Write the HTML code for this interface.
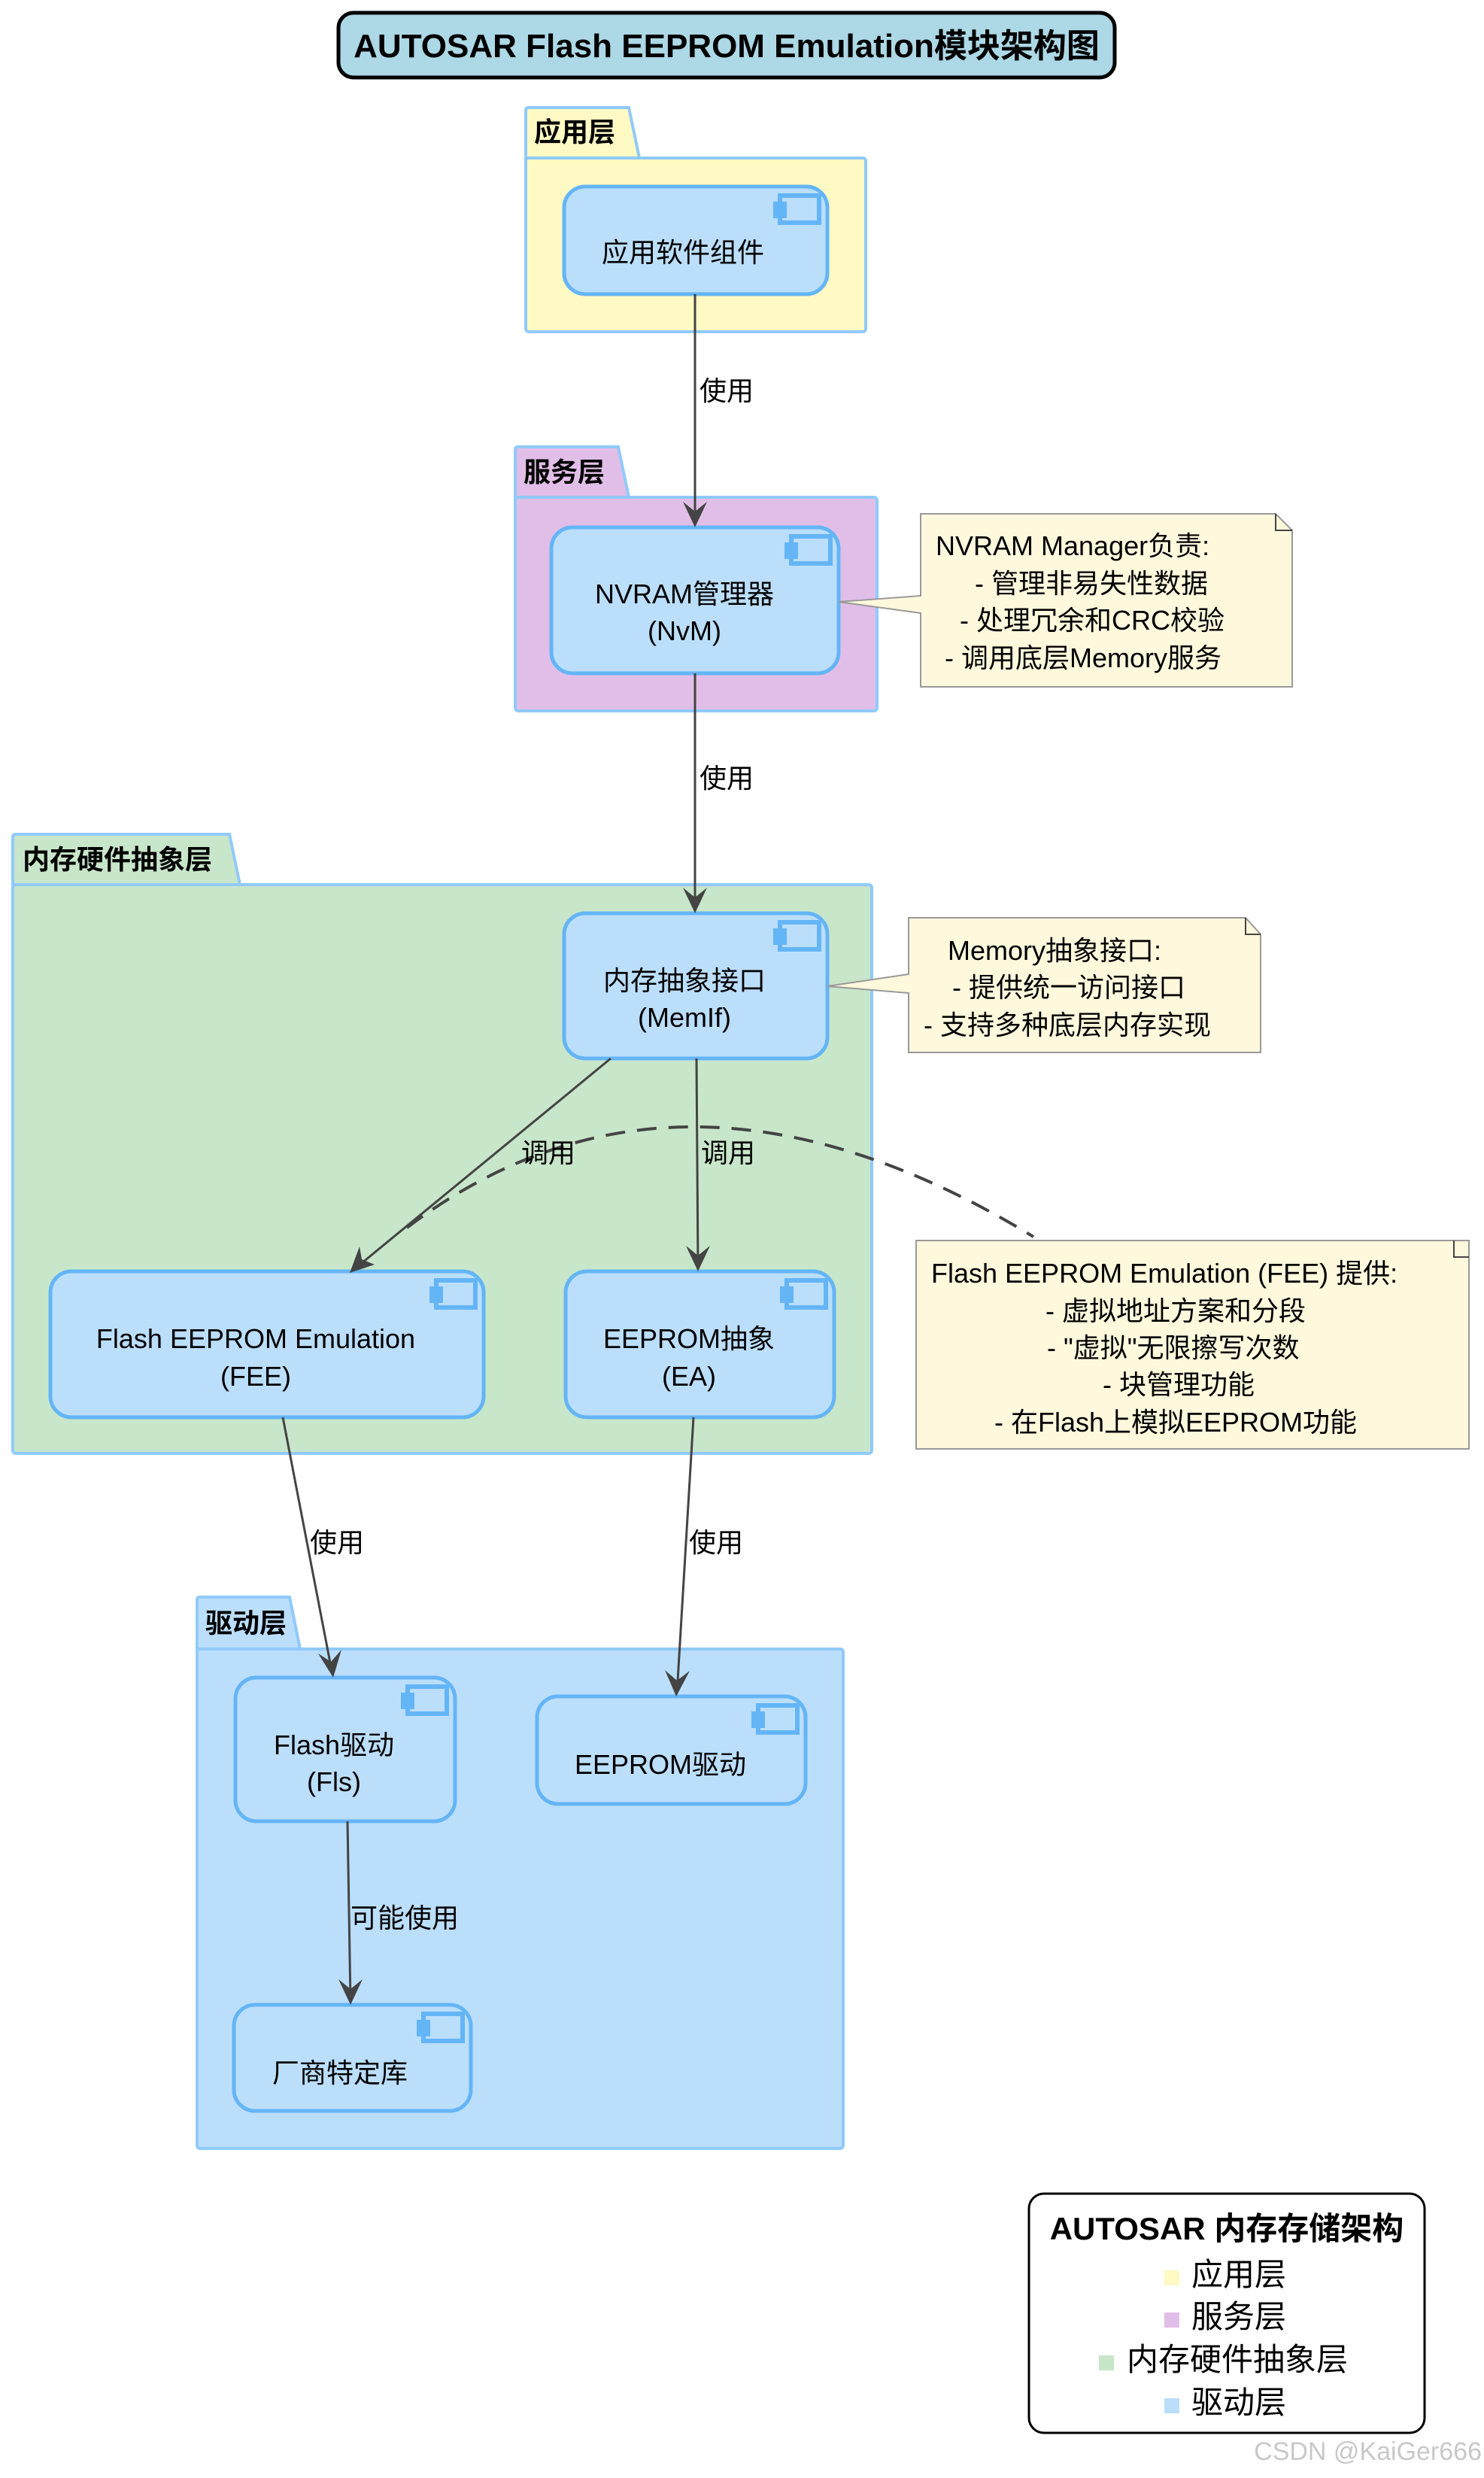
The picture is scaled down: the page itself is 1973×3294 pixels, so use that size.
<!DOCTYPE html>
<html><head><meta charset="utf-8"><style>
html,body{margin:0;padding:0;background:#fff;}
svg{display:block;}
text{font-family:"Liberation Sans","Noto Sans CJK SC",sans-serif;fill:#000;}
</style></head><body>
<svg width="1973" height="3294" viewBox="0 0 1973 3294" xmlns="http://www.w3.org/2000/svg">
<defs>
<marker id="ar" markerWidth="40" markerHeight="40" refX="20" refY="36" orient="auto-start-reverse" markerUnits="userSpaceOnUse" viewBox="0 0 40 40">
</marker>
<g id="ic">
<rect x="-63" y="14" width="52" height="36" fill="#bbdefb" stroke="#64b5f6" stroke-width="6"/>
<rect x="-72" y="22" width="18" height="22" fill="#64b5f6"/>
</g>
</defs>

<!-- title -->
<rect x="450" y="17" width="1032" height="86" rx="20" fill="#add8e6" stroke="#000" stroke-width="5"/>
<text x="966" y="76" font-size="44" font-weight="bold" text-anchor="middle">AUTOSAR Flash EEPROM Emulation模块架构图</text>

<!-- packages -->
<g stroke="#90caf9" stroke-width="4">
<path d="M699,210 L699,147 Q699,143 703,143 L836,143 L850,210 Z" fill="#fff9c4"/>
<rect x="699" y="210" width="452" height="231" rx="4" fill="#fff9c4"/>
<path d="M685,661 L685,598 Q685,594 689,594 L822,594 L836,661 Z" fill="#e1bee7"/>
<rect x="685" y="661" width="481" height="284" rx="4" fill="#e1bee7"/>
<path d="M17,1176 L17,1113 Q17,1109 21,1109 L305,1109 L319,1176 Z" fill="#c8e6c9"/>
<rect x="17" y="1176" width="1142" height="756" rx="4" fill="#c8e6c9"/>
<path d="M262,2192 L262,2127 Q262,2123 266,2123 L385,2123 L399,2192 Z" fill="#bbdefb"/>
<rect x="262" y="2192" width="859" height="664" rx="4" fill="#bbdefb"/>
</g>
<g font-size="36" font-weight="bold">
<text x="710" y="188">应用层</text>
<text x="696" y="640">服务层</text>
<text x="30" y="1155">内存硬件抽象层</text>
<text x="273" y="2170">驱动层</text>
</g>

<!-- components -->
<g fill="#bbdefb" stroke="#64b5f6" stroke-width="5">
<rect x="750" y="248" width="350" height="143" rx="28"/>
<rect x="733" y="701" width="382" height="194" rx="28"/>
<rect x="750" y="1214" width="350" height="193" rx="28"/>
<rect x="67" y="1690" width="576" height="194" rx="28"/>
<rect x="752" y="1690" width="357" height="194" rx="28"/>
<rect x="313" y="2230" width="292" height="191" rx="28"/>
<rect x="714" y="2255" width="357" height="143" rx="28"/>
<rect x="311" y="2665" width="315" height="141" rx="28"/>
</g>
<use href="#ic" x="1100" y="246"/>
<use href="#ic" x="1115" y="699"/>
<use href="#ic" x="1100" y="1212"/>
<use href="#ic" x="643" y="1688"/>
<use href="#ic" x="1109" y="1688"/>
<use href="#ic" x="605" y="2228"/>
<use href="#ic" x="1071" y="2253"/>
<use href="#ic" x="626" y="2663"/>

<g font-size="36" text-anchor="middle">
<text x="908" y="348">应用软件组件</text>
<text x="910" y="802">NVRAM管理器</text>
<text x="910" y="851">(NvM)</text>
<text x="910" y="1316">内存抽象接口</text>
<text x="910" y="1365">(MemIf)</text>
<text x="340" y="1792">Flash EEPROM Emulation</text>
<text x="340" y="1842">(FEE)</text>
<text x="916" y="1792">EEPROM抽象</text>
<text x="916" y="1842">(EA)</text>
<text x="444" y="2332">Flash驱动</text>
<text x="444" y="2381">(Fls)</text>
<text x="878" y="2358">EEPROM驱动</text>
<text x="452" y="2768">厂商特定库</text>
</g>

<!-- notes -->
<g stroke="#999" stroke-width="2" fill="#fef8dc">
<path d="M1224,683 L1696,683 L1718,705 L1718,913 L1224,913 L1224,815 L1115,800 L1224,792 Z"/>
<path d="M1208,1220 L1656,1220 L1676,1242 L1676,1399 L1208,1399 L1208,1320 L1100,1311 L1208,1295 Z"/>
<rect x="1218" y="1649" width="735" height="277"/>
</g>
<g fill="none" stroke="#444" stroke-width="2">
<path d="M1696,683 L1696,705 L1718,705"/>
<path d="M1656,1220 L1656,1242 L1676,1242"/>
<path d="M1933,1649 L1933,1671 L1953,1671"/>
</g>
<g font-size="36">
<text x="1244" y="738">NVRAM Manager负责:</text>
<text x="1296" y="788">- 管理非易失性数据</text>
<text x="1276" y="837">- 处理冗余和CRC校验</text>
<text x="1256" y="887">- 调用底层Memory服务</text>
<text x="1260" y="1276">Memory抽象接口:</text>
<text x="1266" y="1325">- 提供统一访问接口</text>
<text x="1228" y="1375">- 支持多种底层内存实现</text>
<text x="1238" y="1705">Flash EEPROM Emulation (FEE) 提供:</text>
<text x="1390" y="1755">- 虚拟地址方案和分段</text>
<text x="1392" y="1804">- "虚拟"无限擦写次数</text>
<text x="1466" y="1853">- 块管理功能</text>
<text x="1322" y="1903">- 在Flash上模拟EEPROM功能</text>
</g>

<!-- dashed curve -->
<path d="M541,1632 Q904,1358 1374,1644" fill="none" stroke="#444" stroke-width="4" stroke-dasharray="26,16"/>

<!-- arrows -->
<g stroke="#444" stroke-width="3" fill="none">
<line x1="924" y1="391" x2="924" y2="695"/>
<line x1="924" y1="895" x2="924" y2="1208"/>
<line x1="812" y1="1407" x2="470" y2="1688"/>
<line x1="926" y1="1407" x2="928" y2="1686"/>
<line x1="376" y1="1884" x2="442" y2="2226"/>
<line x1="922" y1="1884" x2="900" y2="2251"/>
<line x1="462" y1="2421" x2="466" y2="2661"/>
</g>
<g fill="#444">
<path d="M924,701 L908,667 L924,680 L940,667 Z"/>
<path d="M924,1214 L908,1180 L924,1193 L940,1180 Z"/>
<path d="M465,1692 L478,1657 L481,1674 L498,1681 Z" />
<path d="M928,1690 L912,1656 L928,1669 L944,1656 Z"/>
<path d="M443,2230 L423,2198 L440,2209 L454,2193 Z"/>
<path d="M899,2255 L884,2220 L900,2234 L917,2221 Z"/>
<path d="M466,2665 L450,2631 L466,2644 L482,2631 Z"/>
</g>
<g font-size="36">
<text x="930" y="532">使用</text>
<text x="930" y="1047">使用</text>
<text x="693" y="1545">调用</text>
<text x="932" y="1545">调用</text>
<text x="412" y="2063">使用</text>
<text x="916" y="2063">使用</text>
<text x="466" y="2562">可能使用</text>
</g>

<!-- legend -->
<rect x="1368" y="2916" width="526" height="318" rx="20" fill="#fff" stroke="#000" stroke-width="3"/>
<text x="1631" y="2977" font-size="42" font-weight="bold" text-anchor="middle">AUTOSAR 内存存储架构</text>
<g font-size="42">
<rect x="1548" y="3018" width="20" height="20" fill="#fff9c4"/><text x="1584" y="3038">应用层</text>
<rect x="1548" y="3074" width="20" height="20" fill="#e1bee7"/><text x="1584" y="3094">服务层</text>
<rect x="1461" y="3131" width="20" height="20" fill="#c8e6c9"/><text x="1498" y="3151">内存硬件抽象层</text>
<rect x="1548" y="3188" width="20" height="20" fill="#bbdefb"/><text x="1584" y="3208">驱动层</text>
</g>
<text x="1970" y="3270" font-size="34" fill="#ccc" text-anchor="end" style="fill:#c8c8c8">CSDN @KaiGer666</text>
</svg>
</body></html>
